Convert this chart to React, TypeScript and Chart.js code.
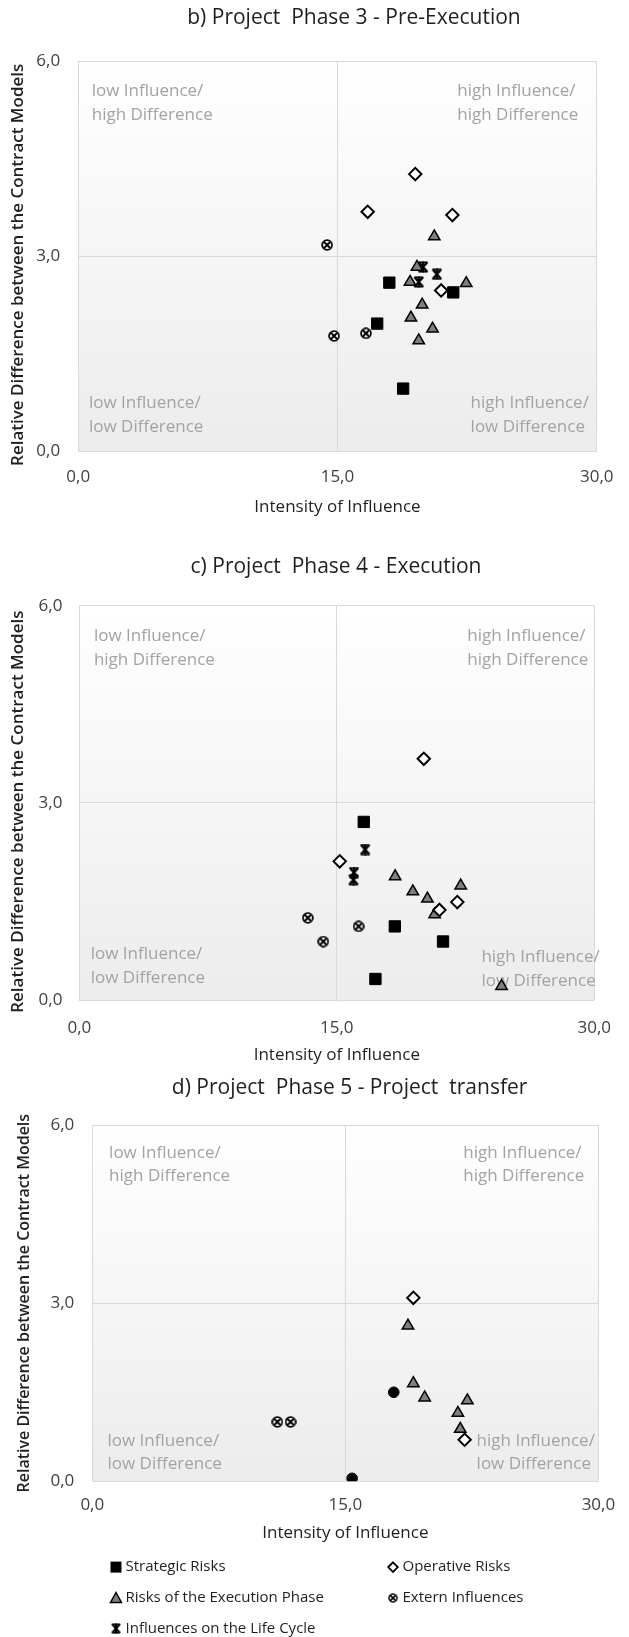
import React, { useEffect, useRef } from 'react';
import { Chart, registerables } from 'chart.js';

Chart.register(...registerables);

const FONT = "'Open Sans', 'Noto Sans', sans-serif";

// ---- axis ticks ----
const X_TICK_LABELS = ['0,0', '15,0', '30,0'];
const Y_TICK_LABELS = ['0,0', '3,0', '6,0'];
const X_TITLE = 'Intensity of Influence';
const Y_TITLE = 'Relative Difference between the Contract Models';

// ---- series names ----
const SERIES_NAMES = [
  'Strategic Risks',
  'Operative Risks',
  'Risks of the Execution Phase',
  'Extern Influences',
  'Influences on the Life Cycle',
];

// ---- quadrant labels ----
const Q_UL = ['low Influence/', 'high Difference'];
const Q_UR = ['high Influence/', 'high Difference'];
const Q_LL = ['low Influence/', 'low Difference'];
const Q_LR = ['high Influence/', 'low Difference'];

// ---- b) Project Phase 3 - Pre-Execution : [intensity, difference] ----
const P3_STRATEGIC = [[18.0, 2.59], [21.7, 2.44], [17.3, 1.96], [18.8, 0.96]];
const P3_OPERATIVE = [[19.5, 4.26], [16.75, 3.68], [21.65, 3.63], [21.0, 2.47]];
const P3_EXECUTION = [[20.6, 3.3], [19.6, 2.83], [19.2, 2.6], [22.45, 2.58], [19.9, 2.25], [19.25, 2.05], [20.5, 1.88], [19.7, 1.7]];
const P3_EXTERN = [[14.4, 3.17], [16.65, 1.81], [14.8, 1.77]];
const P3_LIFECYCLE = [[19.95, 2.83], [20.75, 2.72], [19.7, 2.6]];

// ---- c) Project Phase 4 - Execution ----
const P4_STRATEGIC = [[16.57, 2.71], [18.38, 1.12], [21.19, 0.89], [17.25, 0.32]];
const P4_OPERATIVE = [[20.07, 3.67], [15.17, 2.11], [22.02, 1.49], [20.98, 1.37]];
const P4_EXECUTION = [[18.4, 1.88], [19.43, 1.65], [20.28, 1.54], [22.22, 1.74], [20.7, 1.3], [24.6, 0.21]];
const P4_EXTERN = [[13.31, 1.25], [16.27, 1.12], [14.21, 0.89]];
const P4_LIFECYCLE = [[16.65, 2.29], [16.0, 1.94], [15.97, 1.83]];

// ---- d) Project Phase 5 - Project transfer ----
const P5_STRATEGIC = [[17.87, 1.5], [15.4, 0.05]];
const P5_OPERATIVE = [[19.03, 3.09], [22.07, 0.7]];
const P5_EXECUTION = [[18.71, 2.62], [19.03, 1.65], [19.7, 1.41], [22.23, 1.36], [21.67, 1.15], [21.81, 0.88]];
const P5_EXTERN = [[10.97, 1.0], [11.75, 1.0]];
const P5_LIFECYCLE: number[][] = [];

// ---- layout (canvas coordinates) ----
const CHARTS = [
  {
    title: 'b) Project  Phase 3 - Pre-Execution',
    series: [P3_STRATEGIC, P3_OPERATIVE, P3_EXECUTION, P3_EXTERN, P3_LIFECYCLE],
    strategicStyle: 'rect',
    top: 0, height: 525, padBottom: 0,
    area: { left: 78.2, top: 61, right: 605, bottom: 451 },
    titlePos: [354, 18.3],
    xTickPad: 15.5, xTitlePad: 7.8, yTickPad: 18, yTitlePad: 7.8, yTitleSize: 17, yTitleShift: '    ',
    quad: { ul: [91.7, 91, 115.5], ur: [457.3, 91, 115.5], ll: [89, 403.3, 427.3], lr: [470.6, 403.3, 427.3] },
    legend: false,
  },
  {
    title: 'c) Project  Phase 4 - Execution',
    series: [P4_STRATEGIC, P4_OPERATIVE, P4_EXECUTION, P4_EXTERN, P4_LIFECYCLE],
    strategicStyle: 'rect',
    top: 525, height: 545, padBottom: 0,
    area: { left: 79.4, top: 80.7, right: 609.8, bottom: 475 },
    titlePos: [336, 41.7],
    xTickPad: 18, xTitlePad: 4.8, yTickPad: 17, yTitlePad: 7.8, yTitleSize: 17, yTitleShift: '    ',
    quad: { ul: [93.9, 110.7, 135], ur: [467.3, 110.7, 135], ll: [90.7, 429, 453.3], lr: [481.4, 431.7, 456] },
    legend: false,
  },
  {
    title: 'd) Project  Phase 5 - Project  transfer',
    series: [P5_STRATEGIC, P5_OPERATIVE, P5_EXECUTION, P5_EXTERN, P5_LIFECYCLE],
    strategicStyle: 'circle',
    top: 1070, height: 567, padBottom: 87,
    area: { left: 92.3, top: 55.1, right: 598.9, bottom: 411.3 },
    titlePos: [349.6, 17.6],
    xTickPad: 13.8, xTitlePad: 6.8, yTickPad: 18, yTitlePad: 14.4, yTitleSize: 16, yTitleShift: '',
    quad: { ul: [109.1, 83.1, 105.9], ur: [463.3, 83.1, 105.9], ll: [107.5, 370.9, 393.7], lr: [476.6, 370.9, 393.7] },
    legend: true,
  },
];

const LEGEND_ROWS = [497.1, 528, 558.5];
const LEGEND_COLS = [116, 393];

const TEXT_DARK = '#1f1f1f';
const TICK_COLOR = '#404040';
const QUAD_COLOR = '#a3a3a3';
const GRID_COLOR = '#d9d9d9';
const TRI_FILL = '#7f7f7f';

function makeExternMarker(size: number) {
  const c = document.createElement('canvas');
  c.width = size; c.height = size;
  const g = c.getContext('2d')!;
  const m = size / 2;
  g.beginPath();
  g.arc(m, m, m - 1.1, 0, Math.PI * 2);
  g.fillStyle = '#ffffff';
  g.fill();
  g.lineWidth = 1.8;
  g.strokeStyle = '#000000';
  g.stroke();
  const d = m * 0.5;
  g.beginPath();
  g.moveTo(m - d, m - d); g.lineTo(m + d, m + d);
  g.moveTo(m + d, m - d); g.lineTo(m - d, m + d);
  g.lineWidth = 2;
  g.stroke();
  return c;
}

function makeStarMarker(size: number) {
  const c = document.createElement('canvas');
  c.width = size; c.height = size;
  const g = c.getContext('2d')!;
  const m = size / 2;
  g.strokeStyle = '#000000';
  g.lineWidth = 2.3;
  g.beginPath();
  g.moveTo(1.8, 1.2); g.lineTo(size - 1.8, size - 1.2);
  g.moveTo(size - 1.8, 1.2); g.lineTo(1.8, size - 1.2);
  g.moveTo(m, 0.5); g.lineTo(m, size - 0.5);
  g.stroke();
  g.lineWidth = 1.5;
  g.beginPath();
  g.moveTo(1.5, 1.3); g.lineTo(size - 1.5, 1.3);
  g.moveTo(1.5, size - 1.3); g.lineTo(size - 1.5, size - 1.3);
  g.stroke();
  return c;
}

function drawLegendMarker(ctx: CanvasRenderingContext2D, idx: number, x: number, y: number, ext: HTMLCanvasElement, star: HTMLCanvasElement) {
  ctx.save();
  ctx.strokeStyle = '#000';
  ctx.fillStyle = '#000';
  if (idx === 0) {
    ctx.fillRect(x - 5.5, y - 5.5, 11, 11);
  } else if (idx === 1) {
    ctx.beginPath();
    ctx.moveTo(x, y - 4.8); ctx.lineTo(x + 4.8, y); ctx.lineTo(x, y + 4.8); ctx.lineTo(x - 4.8, y); ctx.closePath();
    ctx.fillStyle = '#fff'; ctx.fill();
    ctx.lineWidth = 1.8; ctx.stroke();
  } else if (idx === 2) {
    ctx.beginPath();
    ctx.moveTo(x, y - 5.5); ctx.lineTo(x + 5.5, y + 4.5); ctx.lineTo(x - 5.5, y + 4.5); ctx.closePath();
    ctx.fillStyle = TRI_FILL; ctx.fill();
    ctx.lineWidth = 1.5; ctx.stroke();
  } else if (idx === 3) {
    ctx.drawImage(ext, x - 5, y - 5, 10, 10);
  } else {
    ctx.drawImage(star, x - 5.5, y - 5.5, 11, 11);
  }
  ctx.restore();
}

function buildConfig(cfg: any, ext: HTMLCanvasElement, star: HTMLCanvasElement) {
  const styles: any[] = [
    cfg.strategicStyle === 'circle'
      ? { pointStyle: 'circle', pointRadius: 5.3, backgroundColor: '#000', borderColor: '#000', borderWidth: 1 }
      : { pointStyle: 'rect', pointRadius: 8, backgroundColor: '#000', borderColor: '#000', borderWidth: 1 },
    { pointStyle: 'rectRot', pointRadius: 6.2, backgroundColor: '#fff', borderColor: '#000', borderWidth: 2 },
    { pointStyle: 'triangle', pointRadius: 6.6, backgroundColor: TRI_FILL, borderColor: '#000', borderWidth: 1.5 },
    { pointStyle: ext, pointRadius: 6, backgroundColor: '#fff', borderColor: '#000', borderWidth: 0 },
    { pointStyle: star, pointRadius: 6, backgroundColor: '#000', borderColor: '#000', borderWidth: 0 },
  ];
  const datasets = cfg.series.map((arr: number[][], i: number) => ({
    label: SERIES_NAMES[i],
    data: arr.map(([x, y]) => ({ x, y })),
    ...styles[i],
    pointHoverRadius: styles[i].pointRadius,
    showLine: false,
  }));

  const a = cfg.area;
  const xScaleHeight = cfg.height - cfg.padBottom - a.bottom;

  const deco = {
    id: 'deco',
    beforeDraw(chart: any) {
      const { ctx, chartArea: ca } = chart;
      ctx.save();
      const g = ctx.createLinearGradient(0, ca.top, 0, ca.bottom);
      g.addColorStop(0, '#ffffff');
      g.addColorStop(1, '#ececec');
      ctx.fillStyle = g;
      ctx.fillRect(ca.left, ca.top, ca.right - ca.left, ca.bottom - ca.top);
      ctx.restore();
    },
    beforeDatasetsDraw(chart: any) {
      const { ctx } = chart;
      ctx.save();
      ctx.font = `17px ${FONT}`;
      ctx.fillStyle = QUAD_COLOR;
      ctx.textAlign = 'left';
      ctx.textBaseline = 'middle';
      const q = cfg.quad;
      const put = (pos: number[], lines: string[]) => {
        ctx.fillText(lines[0], pos[0], pos[1]);
        ctx.fillText(lines[1], pos[0], pos[2]);
      };
      put(q.ul, Q_UL); put(q.ur, Q_UR); put(q.ll, Q_LL); put(q.lr, Q_LR);
      ctx.restore();
    },
    afterDraw(chart: any) {
      const { ctx } = chart;
      ctx.save();
      ctx.font = `21px ${FONT}`;
      ctx.fillStyle = TEXT_DARK;
      ctx.textAlign = 'center';
      ctx.textBaseline = 'middle';
      ctx.fillText(cfg.title, cfg.titlePos[0], cfg.titlePos[1]);
      if (cfg.legend) {
        ctx.font = `15px ${FONT}`;
        ctx.textAlign = 'left';
        SERIES_NAMES.forEach((name, i) => {
          const row = Math.floor(i / 2);
          const col = i % 2;
          const mx = LEGEND_COLS[col];
          const my = LEGEND_ROWS[row];
          drawLegendMarker(ctx, i, mx, my, ext, star);
          ctx.fillStyle = TEXT_DARK;
          ctx.fillText(name, mx + 9.5, my);
        });
      }
      ctx.restore();
    },
  };

  return {
    type: 'scatter',
    data: { datasets },
    plugins: [deco],
    options: {
      responsive: false,
      animation: false,
      devicePixelRatio: 1,
      events: [],
      layout: { padding: { left: 0, top: a.top, right: 629 - a.right, bottom: cfg.padBottom } },
      plugins: { legend: { display: false }, tooltip: { enabled: false }, title: { display: false } },
      scales: {
        x: {
          type: 'linear', min: 0, max: 30,
          ticks: {
            stepSize: 15, autoSkip: false, maxRotation: 0,
            padding: cfg.xTickPad, color: TICK_COLOR,
            font: { family: FONT, size: 17 },
            callback: (_v: any, i: number) => X_TICK_LABELS[i],
          },
          grid: { color: GRID_COLOR, drawTicks: false, lineWidth: 1 },
          border: { display: false },
          title: {
            display: true, text: X_TITLE, color: TEXT_DARK,
            font: { family: FONT, size: 17 },
            padding: { top: 0, bottom: cfg.xTitlePad },
          },
          afterFit: (s: any) => { s.height = xScaleHeight; },
        },
        y: {
          type: 'linear', min: 0, max: 6,
          ticks: {
            stepSize: 3, autoSkip: false,
            padding: cfg.yTickPad, color: TICK_COLOR,
            font: { family: FONT, size: 17 },
            callback: (_v: any, i: number) => Y_TICK_LABELS[i],
          },
          grid: { color: GRID_COLOR, drawTicks: false, lineWidth: 1 },
          border: { display: false },
          title: {
            display: true, text: Y_TITLE + cfg.yTitleShift, color: TEXT_DARK,
            font: { family: FONT, size: cfg.yTitleSize, weight: '600' },
            padding: { top: cfg.yTitlePad, bottom: 0 },
          },
          afterFit: (s: any) => { s.width = a.left; },
        },
      },
    },
  };
}

function PhaseChart({ cfg }: { cfg: any }) {
  const ref = useRef<HTMLCanvasElement>(null);
  useEffect(() => {
    const ext = makeExternMarker(12);
    const star = makeStarMarker(12);
    const chart = new Chart(ref.current as HTMLCanvasElement, buildConfig(cfg, ext, star) as any);
    return () => chart.destroy();
  }, [cfg]);
  return (
    <canvas
      ref={ref}
      width={629}
      height={cfg.height}
      style={{ position: 'absolute', left: 0, top: cfg.top, width: 629, height: cfg.height }}
    />
  );
}

export default function App() {
  return (
    <div style={{ position: 'absolute', left: 0, top: 0, width: 629, height: 1637, background: '#ffffff', overflow: 'hidden' }}>
      {CHARTS.map((c, i) => (
        <PhaseChart key={i} cfg={c} />
      ))}
    </div>
  );
}
